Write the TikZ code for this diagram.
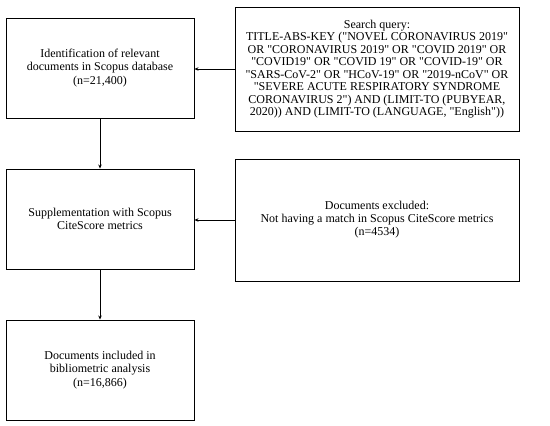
\documentclass[tikz,border=0pt]{standalone}
\usepackage{fontspec}
\setmainfont{Liberation Serif}[Ligatures=TeXOff]
\usetikzlibrary{arrows.meta}
\begin{document}
\begin{tikzpicture}[x=1pt,y=-1pt,
		box/.style={draw,line width=0.9pt,align=center,font=\fontsize{12}{13.5}\selectfont,inner sep=2pt},
		stepbox/.style={box,minimum width=188pt,minimum height=100pt},
		sidebox/.style={box,minimum width=284pt},
		link/.style={line width=0.9pt,-{Stealth[length=4pt,width=3.5pt]}}]
			\useasboundingbox (0,0) rectangle (550,426);
			
			% Linke Spalte
			\node[stepbox] (ident) at (100,68) {Identification of relevant\\documents in Scopus database\\(n=21,400)};
			\node[stepbox] (suppl) at (100,219) {Supplementation with Scopus\\CiteScore metrics};
			\node[stepbox] (incl) at (100,370) {Documents included in\\bibliometric analysis\\(n=16,866)};
			
			% Rechte Spalte
			\node[sidebox,minimum height=124pt,font=\fontsize{12}{12.5}\selectfont] (query) at (377,69) {Search query:\\
				TITLE-ABS-KEY ("NOVEL CORONAVIRUS 2019"\\
				OR "CORONAVIRUS 2019" OR "COVID 2019" OR\\
				"COVID19" OR "COVID 19" OR "COVID-19" OR\\
				"SARS-CoV-2" OR "HCoV-19" OR "2019-nCoV" OR\\
				"SEVERE ACUTE RESPIRATORY SYNDROME\\
				CORONAVIRUS 2") AND (LIMIT-TO (PUBYEAR,\\
				2020)) AND (LIMIT-TO (LANGUAGE, "English"))};
			\node[sidebox,minimum height=122pt,font=\fontsize{12}{13}\selectfont] (excl) at (377,220) {Documents excluded:\\Not having a match in Scopus CiteScore metrics\\(n=4534)};
			
			% Pfeile
			\draw[link] (ident) -- (suppl);
			\draw[link] (suppl) -- (incl);
			\draw[link] (query.west) -- (query.west -| ident.east);
			\draw[link] (excl.west) -- (excl.west -| suppl.east);
	\end{tikzpicture}
\end{document}
